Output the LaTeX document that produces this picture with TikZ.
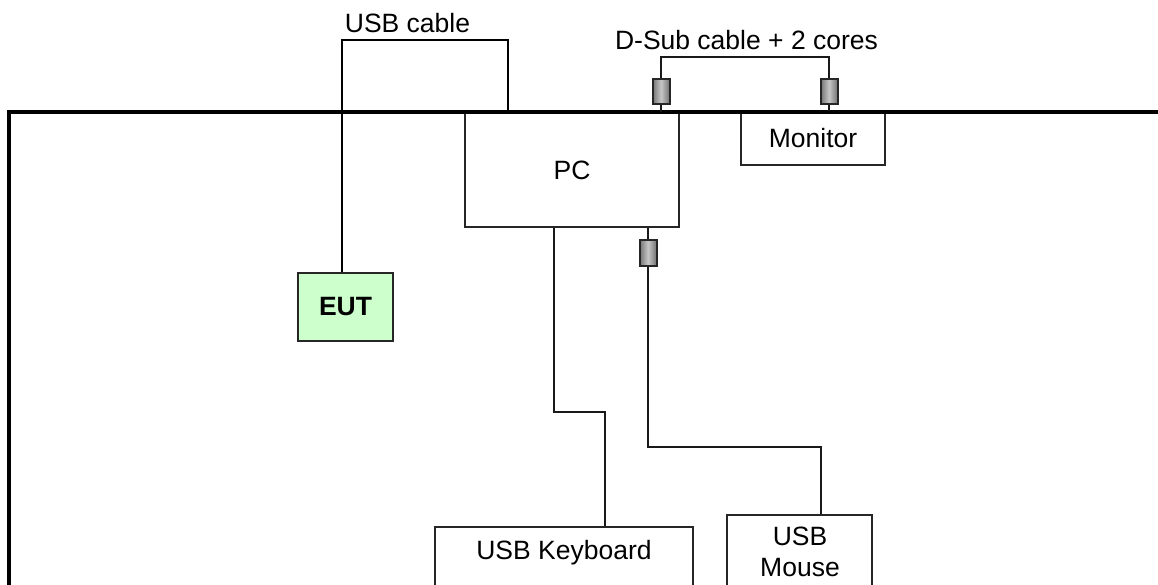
\documentclass[tikz,border=0pt]{standalone}
\usepackage{fontspec}
\setmainfont{Liberation Sans}
\tikzset{
  box/.style={draw=black!85,line width=2pt,fill=white,inner sep=0pt,font=\fontsize{26.5}{31}\selectfont,align=center},
  txt/.style={inner sep=0pt,font=\fontsize{26.5}{31}\selectfont,align=center},
  wire/.style={draw=black!90,line width=2pt,line join=miter},
  thickwire/.style={draw=black,line width=2.6pt,line join=miter},
  ferrite/.style={draw=black!85,line width=2pt,inner sep=0pt,minimum width=17pt,minimum height=25pt,
    left color=black!55,right color=black!55,middle color=black!22}
}
\begin{document}
\begin{tikzpicture}[x=1pt,y=-1pt]
\useasboundingbox (0,0) rectangle (1158,585);
\clip (0,0) rectangle (1158,585);
\fill[white] (0,0) rectangle (1158,585);
% boxes
\node[box,minimum width=214pt,minimum height=114pt] (pc) at (572,170) {PC};
\node[box,minimum width=144pt,minimum height=53pt] (mon) at (813,138.5) {Monitor};
\node[box,fill={rgb,255:red,204;green,255;blue,204},minimum width=95pt,minimum height=68pt,font=\fontsize{26.5}{31}\selectfont\bfseries] (eut) at (345.5,307) {EUT};
\node[box,minimum width=258pt,minimum height=100pt,anchor=north] (kb) at (564,526) {};
\node[box,minimum width=145pt,minimum height=100pt,anchor=north] (mouse) at (799.5,514) {};
\node[txt] (kbt) at (564,552.5) {USB Keyboard};
\node[txt] (mouset) at (800,552) {USB\\Mouse};
% room outline
\node[draw=black,line width=4pt,minimum width=1300pt,minimum height=700pt,inner sep=0pt,anchor=north west] (room) at (7.3,109.8) {};
% ferrites
\node[ferrite] (fa) at (661,91.5) {};
\node[ferrite] (fb) at (829,91.5) {};
\node[ferrite] (fc) at (648,253) {};
% labels
\node[txt] (usbl) at (407.5,23) {USB cable};
\node[txt] (dsubl) at (746.5,40) {D-Sub cable + 2 cores};
% anchors of cable routes
\coordinate (u1) at (342,40);
\coordinate (u2) at (508,40);
\coordinate (u3) at (508,111.5);
\coordinate (d1) at (661,57.5);
\coordinate (d2) at (829,57.5);
\coordinate (k1) at (554,412);
\coordinate (k2) at (605.3,412);
\coordinate (m1) at (648,447);
\coordinate (m2) at (821,447);
% cables
\draw[thickwire] (u1 |- eut.north) -- (u1) -- (u2) -- (u3);
\draw[wire] (fa.north) -- (d1) -- (d2) -- (fb.north);
\draw[wire] (fa.south) -- (fa.south |- pc.north);
\draw[wire] (fb.south) -- (fb.south |- mon.north);
\draw[wire] (k1 |- pc.south) -- (k1) -- (k2) -- (k2 |- kb.north);
\draw[wire] (fc.north) -- (fc.north |- pc.south);
\draw[wire] (fc.south) -- (m1) -- (m2) -- (m2 |- mouse.north);
\end{tikzpicture}
\end{document}
